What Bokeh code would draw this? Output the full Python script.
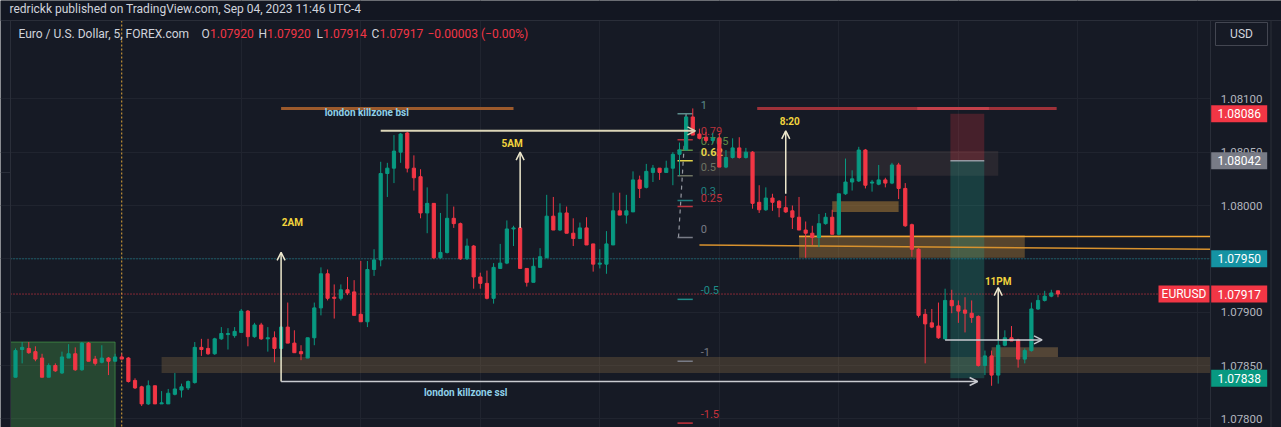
from bokeh.plotting import figure
from bokeh.models import (Range1d, FixedTicker, Arrow, OpenHead, ColumnDataSource)
from bokeh.core.properties import value
from bokeh.embed import file_html
from bokeh.resources import INLINE

# ---------------- data (EURUSD, 5 min, FOREX.com) ----------------
opens = [1.07839, 1.07865, 1.07866, 1.07863, 1.07857, 1.07839, 1.07850, 1.07843, 1.07857, 1.07861,
         1.07846, 1.07871, 1.07856, 1.07853, 1.07857, 1.07854, 1.07858, 1.07857, 1.07836, 1.07830,
         1.07814, 1.07831, 1.07814, 1.07814, 1.07823, 1.07827, 1.07829, 1.07834, 1.07867, 1.07866,
         1.07861, 1.07875, 1.07879, 1.07878, 1.07881, 1.07901, 1.07877, 1.07888, 1.07875, 1.07876,
         1.07866, 1.07886, 1.07871, 1.07863, 1.07857, 1.07876, 1.07904, 1.07936, 1.07914, 1.07913,
         1.07921, 1.07919, 1.07898, 1.07891, 1.07940, 1.07949, 1.08030, 1.08035, 1.08050, 1.08068,
         1.08035, 1.08027, 1.07993, 1.08002, 1.07951, 1.07956, 1.07988, 1.07983, 1.07950, 1.07962,
         1.07933, 1.07927, 1.07913, 1.07941, 1.07946, 1.07978, 1.07979, 1.07941, 1.07928, 1.07942,
         1.07951, 1.07990, 1.07977, 1.07993, 1.07974, 1.07969, 1.07979, 1.07964, 1.07945, 1.07945,
         1.07963, 1.07995, 1.07991, 1.07994, 1.08024, 1.08017, 1.08031, 1.08035, 1.08031, 1.08035,
         1.08048, 1.08052, 1.08083, 1.08067, 1.08064, 1.08061, 1.08063, 1.08036, 1.08045, 1.08054,
         1.08045, 1.08050, 1.08003, 1.07996, 1.08007, 1.08004, 1.07998, 1.07995, 1.07989, 1.07977,
         1.07974, 1.07970, 1.07983, 1.07989, 1.07973, 1.08011, 1.08022, 1.08023, 1.08052, 1.08021,
         1.08020, 1.08024, 1.08021, 1.08038, 1.08016, 1.07982, 1.07959, 1.07898, 1.07890, 1.07887,
         1.07875, 1.07911, 1.07906, 1.07902, 1.07899, 1.07896, 1.07850, 1.07859, 1.07841, 1.07869,
         1.07876, 1.07874, 1.07856, 1.07864, 1.07903, 1.07911, 1.07915, 1.07920]
highs = [1.07866, 1.07872, 1.07872, 1.07868, 1.07861, 1.07852, 1.07852, 1.07863, 1.07870, 1.07867,
         1.07872, 1.07872, 1.07859, 1.07869, 1.07858, 1.07861, 1.07861, 1.07858, 1.07838, 1.07831,
         1.07836, 1.07831, 1.07826, 1.07828, 1.07843, 1.07833, 1.07836, 1.07872, 1.07875, 1.07875,
         1.07876, 1.07886, 1.07885, 1.07886, 1.07903, 1.07902, 1.07890, 1.07890, 1.07886, 1.07882,
         1.07887, 1.07909, 1.07883, 1.07869, 1.07876, 1.07909, 1.07942, 1.07940, 1.07926, 1.07926,
         1.07933, 1.07930, 1.07948, 1.07948, 1.07959, 1.08041, 1.08040, 1.08066, 1.08068, 1.08069,
         1.08047, 1.08034, 1.08017, 1.08002, 1.07993, 1.08011, 1.07999, 1.07984, 1.07969, 1.07963,
         1.07937, 1.07939, 1.07946, 1.07964, 1.07986, 1.07981, 1.07980, 1.07941, 1.07951, 1.07960,
         1.08010, 1.08008, 1.08002, 1.07999, 1.07988, 1.07984, 1.07989, 1.07964, 1.07959, 1.07976,
         1.08012, 1.08012, 1.08010, 1.08032, 1.08028, 1.08039, 1.08038, 1.08035, 1.08042, 1.08050,
         1.08059, 1.08084, 1.08091, 1.08072, 1.08069, 1.08068, 1.08068, 1.08052, 1.08063, 1.08064,
         1.08054, 1.08051, 1.08019, 1.08017, 1.08011, 1.08005, 1.08009, 1.08000, 1.08008, 1.07985,
         1.07981, 1.07992, 1.07993, 1.07996, 1.08011, 1.08044, 1.08033, 1.08055, 1.08053, 1.08024,
         1.08038, 1.08026, 1.08040, 1.08040, 1.08021, 1.07983, 1.07960, 1.07903, 1.07903, 1.07909,
         1.07922, 1.07921, 1.07911, 1.07914, 1.07911, 1.07897, 1.07864, 1.07864, 1.07883, 1.07883,
         1.07887, 1.07875, 1.07866, 1.07909, 1.07916, 1.07920, 1.07921, 1.07920]
lows = [1.07839, 1.07852, 1.07861, 1.07854, 1.07839, 1.07839, 1.07844, 1.07842, 1.07857, 1.07845,
        1.07845, 1.07854, 1.07850, 1.07852, 1.07841, 1.07854, 1.07856, 1.07834, 1.07828, 1.07812,
        1.07813, 1.07814, 1.07814, 1.07814, 1.07822, 1.07820, 1.07827, 1.07833, 1.07859, 1.07860,
        1.07860, 1.07874, 1.07865, 1.07876, 1.07881, 1.07868, 1.07876, 1.07874, 1.07863, 1.07853,
        1.07855, 1.07871, 1.07862, 1.07855, 1.07857, 1.07869, 1.07897, 1.07911, 1.07894, 1.07911,
        1.07916, 1.07897, 1.07891, 1.07886, 1.07934, 1.07943, 1.08008, 1.08021, 1.08040, 1.08031,
        1.08014, 1.07988, 1.07974, 1.07950, 1.07950, 1.07955, 1.07979, 1.07949, 1.07949, 1.07922,
        1.07922, 1.07912, 1.07908, 1.07941, 1.07945, 1.07962, 1.07941, 1.07924, 1.07928, 1.07942,
        1.07951, 1.07977, 1.07976, 1.07974, 1.07962, 1.07969, 1.07963, 1.07938, 1.07941, 1.07936,
        1.07963, 1.07991, 1.07983, 1.07994, 1.08007, 1.08016, 1.08022, 1.08024, 1.08031, 1.08019,
        1.08028, 1.08052, 1.08066, 1.08062, 1.08059, 1.08058, 1.08036, 1.08035, 1.08044, 1.08044,
        1.08044, 1.07997, 1.07993, 1.07995, 1.07995, 1.07989, 1.07993, 1.07978, 1.07977, 1.07951,
        1.07963, 1.07961, 1.07982, 1.07973, 1.07972, 1.08010, 1.08014, 1.08022, 1.08016, 1.08013,
        1.08019, 1.08017, 1.08020, 1.08006, 1.07980, 1.07952, 1.07895, 1.07852, 1.07885, 1.07875,
        1.07874, 1.07899, 1.07890, 1.07881, 1.07890, 1.07849, 1.07841, 1.07831, 1.07833, 1.07868,
        1.07873, 1.07848, 1.07852, 1.07863, 1.07902, 1.07910, 1.07914, 1.07914]
closes = [1.07864, 1.07867, 1.07862, 1.07856, 1.07839, 1.07850, 1.07845, 1.07858, 1.07861, 1.07846,
          1.07871, 1.07854, 1.07852, 1.07857, 1.07854, 1.07858, 1.07856, 1.07835, 1.07829, 1.07814,
          1.07831, 1.07814, 1.07815, 1.07824, 1.07828, 1.07830, 1.07835, 1.07867, 1.07865, 1.07861,
          1.07875, 1.07880, 1.07880, 1.07882, 1.07901, 1.07877, 1.07888, 1.07875, 1.07876, 1.07866,
          1.07886, 1.07871, 1.07862, 1.07861, 1.07876, 1.07904, 1.07936, 1.07913, 1.07913, 1.07921,
          1.07918, 1.07897, 1.07891, 1.07940, 1.07949, 1.08030, 1.08035, 1.08051, 1.08067, 1.08035,
          1.08026, 1.07993, 1.08002, 1.07951, 1.07956, 1.07988, 1.07983, 1.07950, 1.07962, 1.07933,
          1.07927, 1.07913, 1.07942, 1.07946, 1.07978, 1.07979, 1.07941, 1.07928, 1.07943, 1.07952,
          1.07990, 1.07977, 1.07993, 1.07974, 1.07969, 1.07979, 1.07963, 1.07945, 1.07946, 1.07964,
          1.07995, 1.07991, 1.07995, 1.08024, 1.08016, 1.08032, 1.08035, 1.08031, 1.08035, 1.08048,
          1.08052, 1.08083, 1.08066, 1.08063, 1.08061, 1.08063, 1.08036, 1.08045, 1.08054, 1.08045,
          1.08050, 1.08002, 1.07996, 1.08007, 1.08003, 1.07998, 1.07994, 1.07989, 1.07977, 1.07974,
          1.07970, 1.07983, 1.07989, 1.07973, 1.08011, 1.08022, 1.08025, 1.08052, 1.08019, 1.08022,
          1.08024, 1.08021, 1.08038, 1.08016, 1.07981, 1.07959, 1.07897, 1.07889, 1.07886, 1.07876,
          1.07911, 1.07906, 1.07901, 1.07899, 1.07895, 1.07850, 1.07859, 1.07841, 1.07869, 1.07876,
          1.07873, 1.07856, 1.07864, 1.07903, 1.07911, 1.07915, 1.07918, 1.07917]
bar_index = list(range(len(opens)))

price_ticks = [1.07800, 1.07850, 1.07900, 1.07950, 1.08000, 1.08050, 1.08100]
tick_labels = ["1.07800", "1.07850", "1.07900", "1.07950", "1.08000", "1.08050", "1.08100"]
time_grid_bars = [34, 52, 70, 88, 106, 124, 142, 160, 178]
session_bar = 16

# price tags on the axis
tag_prices = [1.08086, 1.08042, 1.07950, 1.07917, 1.07838]
tag_texts = ["1.08086", "1.08042", "1.07950", "1.07917", "1.07838"]
tag_colors = ["#F23645", "#787B86", "#1593A3", "#F23645", "#089981"]

# rectangles: left bar (None = pane edge), right bar (None = price scale), top, bottom
zone_left = [None, 22, 103, 118, 123, 147]
zone_right = [15, None, 148, 152, 133, 157]
zone_top = [1.07872, 1.07858, 1.08051, 1.07972, 1.08004, 1.07867]
zone_bottom = [1.07700, 1.07843, 1.08028, 1.07951, 1.07994, 1.07858]
zone_colors = ["#4CAF50", "#8D6E47", "#8D6E63", "#C8913C", "#C8913C", "#B08850"]
zone_alpha = [0.30, 0.33, 0.16, 0.36, 0.45, 0.40]

# short position tool
pos_left, pos_right = 140.8, 145.9
pos_stop, pos_entry, pos_target = 1.08086, 1.08042, 1.07838

# fibonacci retracement
fib_high, fib_low = 1.08086, 1.07970
fib_levels = [1, 0.79, 0.705, 0.62, 0.5, 0.3, 0.25, 0, -0.5, -1, -1.5]
fib_labels = ["1", "0.79", "0.705", "0.62", "0.5", "0.3", "0.25", "0", "-0.5", "-1", "-1.5"]
fib_colors = ["#5B8C8C", "#B8323C", "#5E8C45", "#E3D34A", "#6E7363", "#1F8080",
              "#C03440", "#787B86", "#1F8C88", "#787B86", "#C8323C"]
fib_x0, fib_x1, fib_text_x = 99.7, 102.0, 103.2

# vertical time arrows
arrow_bars = [40, 76, 116, 148]
arrow_from = [1.07835, 1.07979, 1.08011, 1.07874]
arrow_to = [1.07956, 1.08050, 1.08070, 1.07923]
arrow_labels = ["2AM", "5AM", "8:20", "11PM"]
arrow_label_bars = [41.7, 74.8, 116.6, 148.0]
arrow_label_prices = [1.07984, 1.08058, 1.08079, 1.07929]

# horizontal arrows
harrow_start = [55, 40, 140]
harrow_end = [102.4, 144.9, 154.6]
harrow_price = [1.08070, 1.07835, 1.07874]
harrow_colors = ["#DCD6B8", "#C9CBD1", "#C9CBD1"]

# ---------------- layout helpers (screen position of the chart chrome) ----------------
BAR_PX, BAR0_PX = 6.64, 15.0
PX_PRICE, PRICE_REF_PX = 9.375e-6, 205.0


def bar_at(px):
    return (px - BAR0_PX) / BAR_PX


def price_at(py):
    return 1.08 + (PRICE_REF_PX - py) * PX_PRICE


W, H = 1281, 427
BG = "#161A25"
GRID = "#20242F"
BORDER = "#2A2E39"
UP, DOWN = "#089981", "#F23645"
PANE_L, PANE_R = bar_at(10), bar_at(1210)
PANE_TOP, PANE_BOT = price_at(20), price_at(427)
FONT = value("Roboto")

p = figure(width=W, height=H, output_backend="svg", toolbar_location=None,
           x_range=Range1d(bar_at(0), bar_at(W)), y_range=Range1d(price_at(H), price_at(0)),
           x_axis_location=None, y_axis_location=None,
           min_border_left=0, min_border_right=0, min_border_top=0, min_border_bottom=0,
           background_fill_color=BG, border_fill_color=BG, outline_line_color=None)
p.xgrid.ticker = FixedTicker(ticks=time_grid_bars)
p.ygrid.ticker = FixedTicker(ticks=price_ticks)
p.xgrid.grid_line_color = GRID
p.ygrid.grid_line_color = GRID

# zones
zl = [v if v is not None else PANE_L for v in zone_left]
zr = [v if v is not None else PANE_R for v in zone_right]
p.quad(left=zl, right=zr, top=zone_top, bottom=zone_bottom,
       fill_color=zone_colors, fill_alpha=zone_alpha, line_color=None)
p.segment(x0=[zl[0], zr[0]], x1=[zr[0], zr[0]], y0=[zone_top[0], zone_top[0]],
          y1=[zone_top[0], zone_bottom[0]], line_color="#4CAF50", line_alpha=0.55, line_width=1)

# position tool
p.quad(left=[pos_left], right=[pos_right], top=[pos_stop], bottom=[pos_entry],
       fill_color="#F23645", fill_alpha=0.22, line_color=None)
p.quad(left=[pos_left], right=[pos_right], top=[pos_entry], bottom=[pos_target],
       fill_color="#22AB94", fill_alpha=0.25, line_color=None)
p.segment(x0=[pos_left], x1=[pos_right], y0=[pos_entry], y1=[pos_entry],
          line_color="#9598A1", line_width=1.5)

# dotted price lines and session separator
p.segment(x0=[PANE_L], x1=[PANE_R], y0=[1.07950], y1=[1.07950], line_color="#1593A3",
          line_dash="1 2", line_width=1)
p.segment(x0=[PANE_L], x1=[bar_at(1158)], y0=[closes[-1]], y1=[closes[-1]],
          line_color="#F23645", line_dash="1 2", line_width=1)
p.segment(x0=[session_bar], x1=[session_bar], y0=[PANE_TOP], y1=[PANE_BOT],
          line_color="#E3A83A", line_dash="2 2", line_width=1)

# killzone high lines
p.segment(x0=[40], x1=[75], y0=[1.08091], y1=[1.08091], line_color="#9C5A2C", line_width=3)
p.segment(x0=[111.7], x1=[156.8], y0=[1.08091], y1=[1.08091], line_color="#9E3139", line_width=3)
p.segment(x0=[135.8], x1=[146.6], y0=[1.08091], y1=[1.08091], line_color="#C2404A", line_width=3)

# orange lines
p.segment(x0=[118], x1=[PANE_R], y0=[1.07971], y1=[1.07971], line_color="#F2A532", line_width=1.5)
tl_x = [103, 159]
tl_y = [1.07963, 1.07960]
slope = (tl_y[1] - tl_y[0]) / (tl_x[1] - tl_x[0])
p.segment(x0=[tl_x[0]], x1=[PANE_R], y0=[tl_y[0]], y1=[tl_y[0] + slope * (PANE_R - tl_x[0])],
          line_color="#D8922E", line_width=1.5)

# fibonacci
fib_prices = [fib_low + L * (fib_high - fib_low) for L in fib_levels]
p.segment(x0=[101.0], y0=[fib_high], x1=[99.85], y1=[fib_low], line_color="#9598A1",
          line_dash="4 4", line_width=1.2)
p.segment(x0=[fib_x0] * len(fib_prices), x1=[fib_x1] * len(fib_prices), y0=fib_prices,
          y1=fib_prices, line_color=fib_colors, line_width=1.5)
fib_bold = ["bold" if t == "0.62" else "normal" for t in fib_labels]
p.text(x=[fib_text_x] * len(fib_prices), y=fib_prices, text=fib_labels, text_color=fib_colors,
       text_font=FONT, text_font_size="11px", text_font_style=fib_bold,
       text_baseline="middle", text_align="left", y_offset=-9)

# candles
inc = [c >= o for o, c in zip(opens, closes)]
src = ColumnDataSource(dict(
    x=bar_index, h=highs, l=lows,
    top=[max(o, c) for o, c in zip(opens, closes)],
    bottom=[min(o, c) for o, c in zip(opens, closes)],
    color=[UP if i else DOWN for i in inc]))
p.segment(x0="x", x1="x", y0="h", y1="l", line_color="color", line_width=1, source=src)
p.vbar(x="x", width=0.48, top="top", bottom="bottom", fill_color="color",
       line_color="color", line_width=1, source=src)

# arrows
for b, y0, y1 in zip(arrow_bars, arrow_from, arrow_to):
    p.add_layout(Arrow(x_start=b, y_start=y0, x_end=b, y_end=y1, line_color="#ECE7CC",
                       line_width=1.5,
                       end=OpenHead(size=8, line_color="#ECE7CC", line_width=1.5)))
for x0, x1, y, c in zip(harrow_start, harrow_end, harrow_price, harrow_colors):
    p.add_layout(Arrow(x_start=x0, y_start=y, x_end=x1, y_end=y, line_color=c,
                       line_width=2 if x0 == 55 else 1.5,
                       end=OpenHead(size=8, line_color=c, line_width=1.5)))
p.text(x=arrow_label_bars, y=arrow_label_prices, text=arrow_labels, text_color="#F2D43D",
       text_font=FONT, text_font_size="10px", text_font_style="bold",
       text_align="center", text_baseline="middle")
p.text(x=[52.9, 67.8], y=[1.080875, 1.078247],
       text=["london killzone bsl", "london killzone ssl"], text_color="#8FD0E8",
       text_font=FONT, text_font_size="10px", text_font_style="bold",
       text_align="center", text_baseline="middle")

# ---------------- chrome: header band, price scale, legend ----------------
p.quad(left=[bar_at(0)], right=[bar_at(W)], top=[price_at(0)], bottom=[PANE_TOP],
       fill_color="#131722", line_color=None)
p.quad(left=[PANE_R], right=[bar_at(W)], top=[PANE_TOP], bottom=[PANE_BOT],
       fill_color=BG, line_color=None)
p.segment(x0=[bar_at(0), PANE_L, PANE_R, bar_at(1270.5), bar_at(0)],
          x1=[bar_at(W), PANE_L, PANE_R, bar_at(1270.5), PANE_L],
          y0=[PANE_TOP, PANE_TOP, PANE_TOP, PANE_TOP, price_at(172)],
          y1=[PANE_TOP, PANE_BOT, PANE_BOT, PANE_BOT, price_at(172)],
          line_color=BORDER, line_width=1)

p.text(x=[bar_at(9)], y=[price_at(8.5)],
       text=["redrickk published on TradingView.com, Sep 04, 2023 11:46 UTC-4"],
       text_color="#D1D4DC", text_font=FONT, text_font_size="12px",
       text_align="left", text_baseline="middle")

legend_texts = ["Euro / U.S. Dollar, 5, FOREX.com", "O", "1.07920", "H", "1.07920",
                "L", "1.07914", "C", "1.07917", "\u22120.00003 (\u22120.00%)"]
legend_px = [18, 201, 209.5, 258, 266.5, 316, 322.5, 371, 379, 427]
legend_colors = ["#D1D4DC", "#D1D4DC", "#F23645", "#D1D4DC", "#F23645",
                 "#D1D4DC", "#F23645", "#D1D4DC", "#F23645", "#F23645"]
p.text(x=[bar_at(v) for v in legend_px], y=[price_at(33)] * len(legend_texts),
       text=legend_texts, text_color=legend_colors, text_font=FONT, text_font_size="12px",
       text_align="left", text_baseline="middle")

# price scale tick labels
p.text(x=[bar_at(1262)] * len(price_ticks), y=price_ticks, text=tick_labels,
       text_color="#B2B5BE", text_font=FONT, text_font_size="11.5px",
       text_align="right", text_baseline="middle")

# USD button
p.quad(left=[bar_at(1215)], right=[bar_at(1267)], top=[price_at(22)], bottom=[price_at(45)],
       fill_color=BG, line_color="#434651", line_width=1)
p.text(x=[bar_at(1241)], y=[price_at(33.5)], text=["USD"], text_color="#D1D4DC",
       text_font=FONT, text_font_size="12px", text_align="center", text_baseline="middle")

# price tags
half = 8.5 * PX_PRICE
p.quad(left=[bar_at(1210.7)] * len(tag_prices), right=[bar_at(1266.7)] * len(tag_prices),
       top=[v + half for v in tag_prices], bottom=[v - half for v in tag_prices],
       fill_color=tag_colors, line_color=None)
p.text(x=[bar_at(1238.7)] * len(tag_prices), y=tag_prices, text=tag_texts,
       text_color="#FFFFFF", text_font=FONT, text_font_size="12px",
       text_align="center", text_baseline="middle")
p.quad(left=[bar_at(1158)], right=[bar_at(1209)], top=[closes[-1] + half],
       bottom=[closes[-1] - half], fill_color="#F23645", line_color=None)
p.text(x=[bar_at(1183.5)], y=[closes[-1]], text=["EURUSD"], text_color="#FFFFFF",
       text_font=FONT, text_font_size="12px", text_align="center", text_baseline="middle")

open("out.html", "w").write(file_html(p, INLINE))
